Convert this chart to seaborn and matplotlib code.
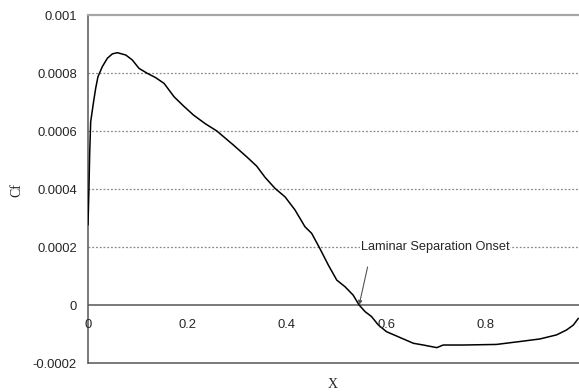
import matplotlib
matplotlib.use("Agg")
import matplotlib.pyplot as plt
import seaborn as sns
import pandas as pd

# Skin friction coefficient along the chord
x_pos = [0.0, 0.002, 0.0034, 0.0054, 0.0107, 0.0154, 0.020, 0.0288, 0.039, 0.049,
         0.059, 0.076, 0.089, 0.1025, 0.119, 0.136, 0.153, 0.163, 0.173, 0.1916,
         0.212, 0.235, 0.259, 0.292, 0.319, 0.339, 0.356, 0.376, 0.396, 0.416,
         0.426, 0.436, 0.4496, 0.466, 0.483, 0.500, 0.5166, 0.533, 0.545, 0.557,
         0.570, 0.5836, 0.600, 0.627, 0.654, 0.674, 0.701, 0.714, 0.754, 0.821,
         0.868, 0.9085, 0.942, 0.962, 0.9756, 0.9856]
cf = [0.000276, 0.000408, 0.000524, 0.000632, 0.000695, 0.000747, 0.000787, 0.000822,
      0.000851, 0.000866, 0.000870, 0.000862, 0.000845, 0.000816, 0.000799, 0.000784,
      0.000764, 0.000741, 0.000718, 0.000687, 0.000655, 0.000626, 0.000600, 0.000552,
      0.000511, 0.000479, 0.000440, 0.000402, 0.000373, 0.000328, 0.000299, 0.000270,
      0.000247, 0.000195, 0.000138, 0.000086, 0.000063, 0.000034, 0.0, -0.000023,
      -0.000040, -0.000069, -0.000092, -0.000112, -0.000132, -0.000138, -0.000147,
      -0.000138, -0.000138, -0.000136, -0.000126, -0.000117, -0.000103, -0.000086,
      -0.000069, -0.000046]

x_ticks = [0, 0.2, 0.4, 0.6, 0.8]
x_tick_labels = ["0", "0.2", "0.4", "0.6", "0.8"]
y_ticks = [-0.0002, 0, 0.0002, 0.0004, 0.0006, 0.0008, 0.001]
y_tick_labels = ["-0.0002", "0", "0.0002", "0.0004", "0.0006", "0.0008", "0.001"]
grid_levels = [0.0002, 0.0004, 0.0006, 0.0008]

onset_x = 0.545
onset_label = "Laminar Separation Onset"

df = pd.DataFrame({"X": x_pos, "Cf": cf})

sns.set_style("white")
plt.rcParams["font.family"] = ["Liberation Sans", "DejaVu Sans"]

fig = plt.figure(figsize=(5.79, 3.92), dpi=100)
ax = fig.add_axes([88 / 579, 29 / 392, 497.5 / 579, 348 / 392])

for lvl in grid_levels:
    ax.axhline(lvl, color="#8a8a8a", lw=0.9, ls=(0, (1.5, 1.5)), zorder=1)
ax.axhline(0, color="#555555", lw=1.1, zorder=2)
ax.axhline(-0.0002, color="#555555", lw=1.1, zorder=2, clip_on=False)

sns.lineplot(data=df, x="X", y="Cf", ax=ax, color="black", lw=1.1, zorder=3,
             sort=False)

ax.set_xlim(0, 1)
ax.set_ylim(-0.0002, 0.001)

ax.spines["right"].set_visible(False)
ax.spines["bottom"].set_visible(False)
ax.spines["top"].set_color("#a6a6a6")
ax.spines["top"].set_linewidth(1.6)
ax.spines["left"].set_color("#555555")
ax.spines["left"].set_linewidth(1.1)

ax.set_xticks([])
ax.set_yticks(y_ticks)
ax.set_yticklabels(y_tick_labels, fontsize=9.4)
ax.tick_params(axis="y", length=0, pad=8)
for xv, lab in zip(x_ticks, x_tick_labels):
    ax.text(xv, -0.0000705, lab, ha="center", va="center", fontsize=9.4, zorder=4)

ax.set_xlabel("")
ax.set_ylabel("")
fig.text(17 / 579, 1 - 190 / 392, "Cf", rotation=90, ha="center", va="center",
         fontsize=10, family=["Liberation Serif", "DejaVu Serif"])
fig.text(333 / 579, 1 - 385 / 392, "X", ha="center", va="center",
         fontsize=10, family=["Liberation Serif", "DejaVu Serif"])

ax.text(0.5487, 0.0002, onset_label, ha="left", va="center", fontsize=9.2,
        bbox=dict(facecolor="white", edgecolor="none", pad=0.5), zorder=4)
ax.annotate("", xy=(onset_x, 0), xytext=(0.562, 0.000131),
            arrowprops=dict(arrowstyle="-|>", color="#555555", lw=0.8,
                            mutation_scale=6, shrinkA=0, shrinkB=0), zorder=4)

fig.savefig("out.png", dpi=100)
